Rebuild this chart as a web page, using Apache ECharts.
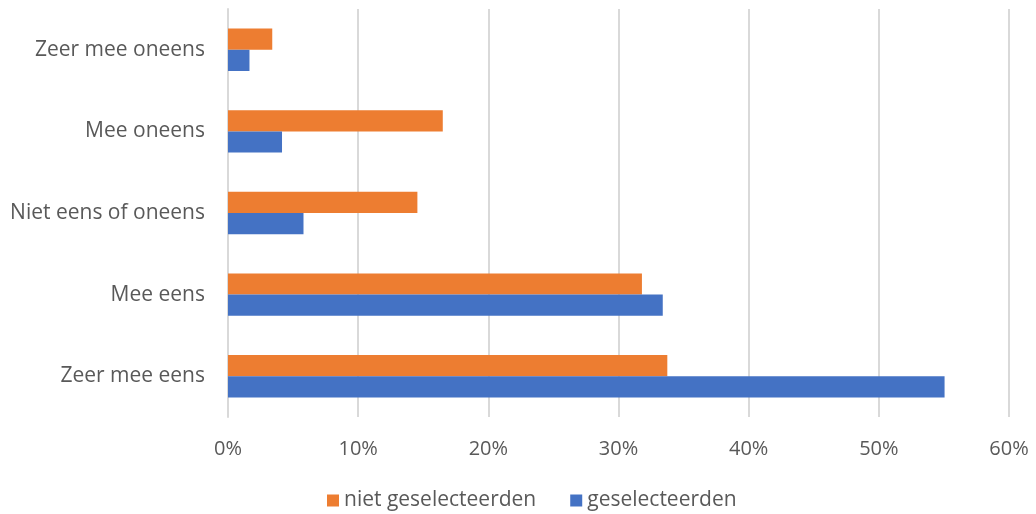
<!DOCTYPE html>
<html>
<head>
<meta charset="utf-8">
<script src="https://cdn.jsdelivr.net/npm/echarts@6/dist/echarts.min.js"></script>
<style>
  html, body { margin: 0; padding: 0; background: #fff; }
  #chart { width: 1036px; height: 514px; }
</style>
</head>
<body>
<div id="chart"></div>
<script>
const categories = ['Zeer mee eens', 'Mee eens', 'Niet eens of oneens', 'Mee oneens', 'Zeer mee oneens']
const nietGeselecteerden = [33.75, 31.8, 14.55, 16.5, 3.4]
const geselecteerden = [55.05, 33.4, 5.8, 4.15, 1.65]
const xTicks = [0, 10, 20, 30, 40, 50, 60]

const labelColor = '#595959'
const fontFamily = '"Open Sans", sans-serif'

const chart = echarts.init(document.getElementById('chart'))
chart.setOption({
  animation: false,
  textStyle: { fontFamily: fontFamily },
  grid: { left: 228, right: 27, top: 9, bottom: 97 },
  legend: {
    data: ['niet geselecteerden', 'geselecteerden'],
    left: 322,
    top: 485,
    itemWidth: 12,
    itemHeight: 12,
    itemGap: 34,
    icon: 'rect',
    textStyle: { color: labelColor, fontSize: 21, fontFamily: fontFamily }
  },
  xAxis: {
    type: 'value',
    min: xTicks[0],
    max: xTicks[xTicks.length - 1],
    interval: 10,
    axisLine: { show: false },
    axisTick: { show: false },
    axisLabel: {
      color: labelColor,
      fontSize: 20,
      margin: 22,
      formatter: v => v + '%'
    },
    splitLine: { lineStyle: { color: '#d9d9d9', width: 2 } }
  },
  yAxis: {
    type: 'category',
    data: categories,
    axisLine: { show: true, lineStyle: { color: '#d9d9d9', width: 2 } },
    axisTick: { show: false },
    axisLabel: { color: labelColor, fontSize: 21, margin: 23 }
  },
  series: [
    {
      name: 'niet geselecteerden',
      type: 'bar',
      data: nietGeselecteerden,
      barGap: '0%',
      barCategoryGap: '48%',
      itemStyle: { color: '#ed7d31' }
    },
    {
      name: 'geselecteerden',
      type: 'bar',
      data: geselecteerden,
      barGap: '0%',
      barCategoryGap: '48%',
      itemStyle: { color: '#4472c4' }
    }
  ]
})
</script>
</body>
</html>
